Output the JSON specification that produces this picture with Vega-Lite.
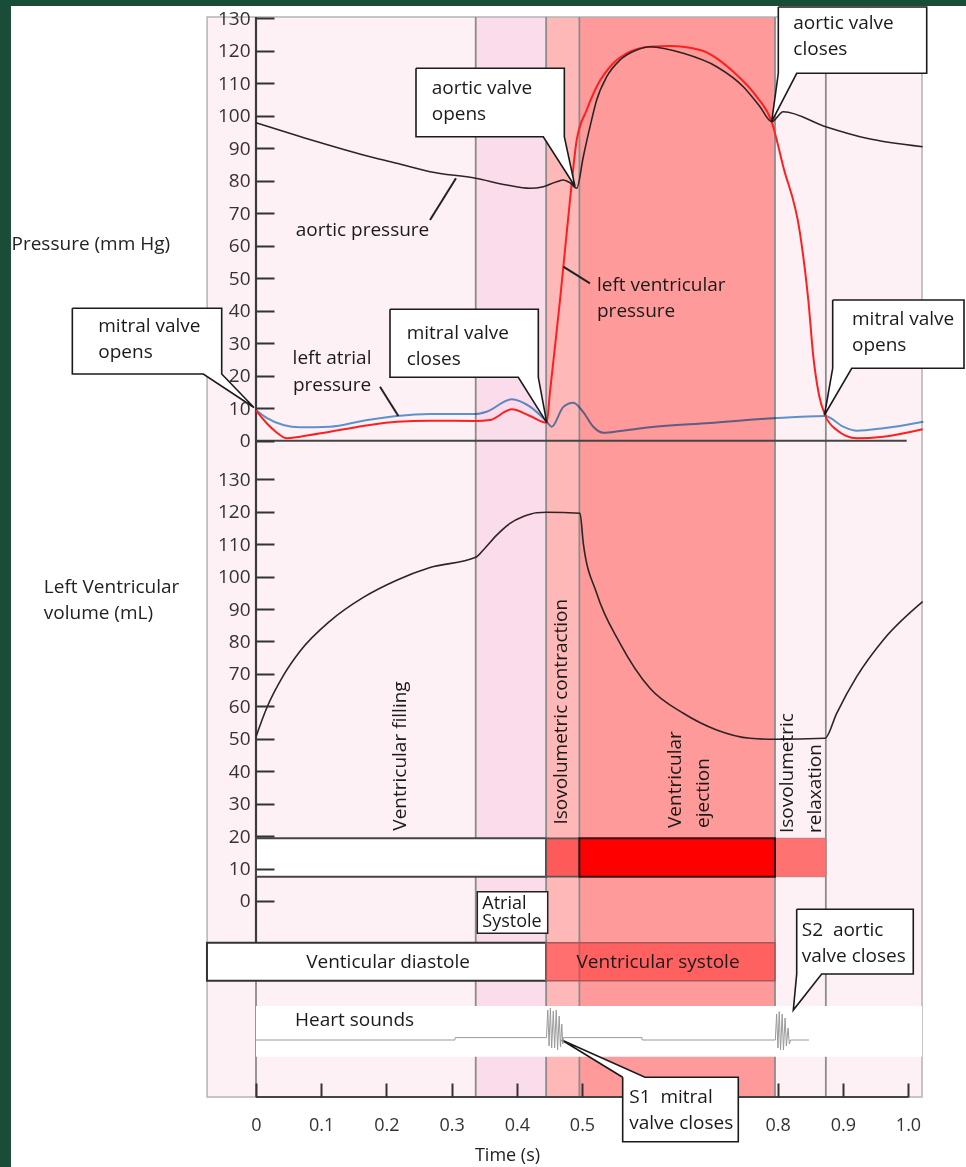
{
  "$schema": "https://vega.github.io/schema/vega-lite/v6.json",
  "width": 652,
  "height": 1080,
  "autosize": "none",
  "padding": {"left": 256, "top": 17, "right": 58, "bottom": 70},
  "background": "#ffffff",
  "config": {"view": {"stroke": null}, "font": "Open Sans", "text": {"font": "Open Sans", "fontSize": 19, "color": "#222222"}},
  "encoding": {
    "x": {
      "field": "t", "type": "quantitative",
      "scale": {"domain": [0, 1], "nice": false, "zero": false},
      "axis": {
        "values": [0, 0.1, 0.2, 0.3, 0.4, 0.5, 0.8, 0.9, 1],
        "labelExpr": "datum.value == 0 ? '0' : format(datum.value, '.1f')",
        "domain": false, "grid": false, "tickSize": -14, "tickWidth": 2, "tickColor": "#333333",
        "labelPadding": 33, "labelFontSize": 18, "labelColor": "#333333", "labelFlush": false, "labelOverlap": false,
        "title": "Time (s)", "titleFontSize": 18, "titleFontWeight": "normal", "titleColor": "#222222",
        "titleX": 251, "titleY": 58, "titleAlign": "center", "titleBaseline": "middle", "zindex": 1
      }
    }
  },
  "resolve": {"scale": {"y": "independent"}},
  "layer": [
    {
      "layer": [
        {
          "data": {"values": [{"t": -0.5, "t2": -0.3758, "p": 200, "p2": -300}, {"t": -0.5, "t2": 1.2, "p": 200, "p2": 133.75}]},
          "mark": {"type": "rect", "fill": "#1a4d37"},
          "encoding": {"x2": {"field": "t2"}, "y": {"field": "p", "type": "quantitative"}, "y2": {"field": "p2"}}
        },
        {
          "data": {"values": [{"t": -0.075, "t2": 0.337}, {"t": 0.796, "t2": 1.0215}]},
          "mark": {"type": "rect", "fill": "#fdf1f6"},
          "encoding": {"x2": {"field": "t2"}}
        },
        {
          "data": {"values": [{"t": 0.337, "t2": 0.445}]},
          "mark": {"type": "rect", "fill": "#fbdcea"},
          "encoding": {"x2": {"field": "t2"}}
        },
        {
          "data": {"values": [{"t": 0.445, "t2": 0.496}]},
          "mark": {"type": "rect", "fill": "#ffb8b8"},
          "encoding": {"x2": {"field": "t2"}}
        },
        {
          "data": {"values": [{"t": 0.496, "t2": 0.796}]},
          "mark": {"type": "rect", "fill": "#ff9a9a"},
          "encoding": {"x2": {"field": "t2"}}
        },
        {
          "data": {"values": [{"t": -0.075, "t2": 1.0215}]},
          "mark": {"type": "rect", "filled": false, "stroke": "#b4b4b4", "strokeWidth": 1.5},
          "encoding": {"x2": {"field": "t2"}}
        },
        {
          "data": {"values": [{"t": 0}, {"t": 0.337}, {"t": 0.445}, {"t": 0.496}, {"t": 0.796}, {"t": 0.874}]},
          "mark": {"type": "rule", "color": "#8c8c8c", "strokeWidth": 1.8},
          "encoding": {}
        },
        {
          "data": {"values": [{"t": 0, "t2": 1.0215, "p": -173.94, "p2": -189.54}]},
          "mark": {"type": "rect", "fill": "#ffffff"},
          "encoding": {"x2": {"field": "t2"}, "y": {"field": "p", "type": "quantitative"}, "y2": {"field": "p2"}}
        },
        {
          "data": {"values": [{"t": -0.0752, "t2": 0.4448, "p": -154.46, "p2": -166.15}]},
          "mark": {"type": "rect", "fill": "#ffffff", "stroke": "#333333", "strokeWidth": 2},
          "encoding": {"x2": {"field": "t2"}, "y": {"field": "p", "type": "quantitative"}, "y2": {"field": "p2"}}
        },
        {
          "data": {"values": [{"t": 0.4448, "t2": 0.796, "p": -154.46, "p2": -166.15}]},
          "mark": {"type": "rect", "fill": "#ff3333", "fillOpacity": 0.55, "stroke": "#a85858", "strokeWidth": 1.5},
          "encoding": {"x2": {"field": "t2"}, "y": {"field": "p", "type": "quantitative"}, "y2": {"field": "p2"}}
        },
        {
          "data": {"values": [{"t": 0.3394, "t2": 0.4474, "p": -138.77, "p2": -151.57}]},
          "mark": {"type": "rect", "fill": "#ffffff", "stroke": "#222222", "strokeWidth": 1.5},
          "encoding": {"x2": {"field": "t2"}, "y": {"field": "p", "type": "quantitative"}, "y2": {"field": "p2"}}
        },
        {
          "data": {"values": [{"t": 0, "p": 130.37, "p2": -154.25}]},
          "mark": {"type": "rule", "color": "#3c3c3c", "strokeWidth": 2.2},
          "encoding": {"y": {"field": "p", "type": "quantitative"}, "y2": {"field": "p2"}}
        },
        {
          "data": {"values": [{"t": 0, "t2": 0.998, "p": 0}, {"t": 0, "t2": 1, "p": -201.94}]},
          "mark": {"type": "rule", "color": "#444444", "strokeWidth": 2},
          "encoding": {"x2": {"field": "t2"}, "y": {"field": "p", "type": "quantitative"}}
        },
        {
          "data": {"values": [
            {"t": 0, "p": 9.45}, {"t": 0.0164, "p": 7.0}, {"t": 0.0419, "p": 4.83}, {"t": 0.0675, "p": 4.12}, {"t": 0.1135, "p": 4.31},
            {"t": 0.1646, "p": 6.15}, {"t": 0.2158, "p": 7.6}, {"t": 0.2669, "p": 8.22}, {"t": 0.337, "p": 8.22}, {"t": 0.3538, "p": 8.92},
            {"t": 0.3922, "p": 12.74}, {"t": 0.4202, "p": 10.46}, {"t": 0.4459, "p": 5.85}, {"t": 0.4535, "p": 4.3}, {"t": 0.4713, "p": 10.4},
            {"t": 0.4866, "p": 11.69}, {"t": 0.502, "p": 8.8}, {"t": 0.5173, "p": 4.31}, {"t": 0.5327, "p": 2.46}, {"t": 0.5583, "p": 2.98},
            {"t": 0.6043, "p": 4.12}, {"t": 0.6963, "p": 5.45}, {"t": 0.7934, "p": 6.9}, {"t": 0.8727, "p": 7.6}, {"t": 0.9008, "p": 4.31},
            {"t": 0.9213, "p": 3.08}, {"t": 0.9621, "p": 3.82}, {"t": 1.0235, "p": 5.85}
          ]},
          "mark": {"type": "line", "color": "#5f9ad4", "strokeWidth": 2, "interpolate": "monotone", "blend": "multiply"},
          "encoding": {"y": {"field": "p", "type": "quantitative"}}
        },
        {
          "data": {"values": [
            {"t": 0, "p": 9.3}, {"t": 0.0164, "p": 5.35}, {"t": 0.0307, "p": 2.68}, {"t": 0.0471, "p": 0.74}, {"t": 0.0675, "p": 1.23},
            {"t": 0.1135, "p": 2.77}, {"t": 0.1646, "p": 4.52}, {"t": 0.2158, "p": 5.85}, {"t": 0.2669, "p": 6.15}, {"t": 0.337, "p": 6.06},
            {"t": 0.3589, "p": 6.37}, {"t": 0.3922, "p": 9.66}, {"t": 0.4202, "p": 7.6}, {"t": 0.4459, "p": 5.54}, {"t": 0.4509, "p": 15.0},
            {"t": 0.4586, "p": 29.0}, {"t": 0.4663, "p": 43.3}, {"t": 0.4739, "p": 58.6}, {"t": 0.4816, "p": 74.06}, {"t": 0.4919, "p": 92.52},
            {"t": 0.5072, "p": 101.75}, {"t": 0.5225, "p": 108.92}, {"t": 0.548, "p": 116.12}, {"t": 0.5736, "p": 119.69}, {"t": 0.6043, "p": 121.23},
            {"t": 0.635, "p": 121.45}, {"t": 0.681, "p": 120.22}, {"t": 0.7321, "p": 113.54}, {"t": 0.7679, "p": 105.85}, {"t": 0.7909, "p": 98.15},
            {"t": 0.8087, "p": 84.3}, {"t": 0.8344, "p": 63.8}, {"t": 0.8471, "p": 43.29}, {"t": 0.8548, "p": 25.85}, {"t": 0.8635, "p": 14.06},
            {"t": 0.8727, "p": 7.91}, {"t": 0.8906, "p": 3.29}, {"t": 0.9213, "p": 0.74}, {"t": 0.9621, "p": 1.23}, {"t": 1.0225, "p": 3.51}
          ]},
          "mark": {"type": "line", "color": "#ff1f1f", "strokeWidth": 2, "interpolate": "monotone"},
          "encoding": {"y": {"field": "p", "type": "quantitative"}}
        },
        {
          "data": {"values": [
            {"t": 0, "p": 97.85}, {"t": 0.0675, "p": 93.6}, {"t": 0.1135, "p": 90.8}, {"t": 0.1646, "p": 87.9}, {"t": 0.2158, "p": 85.35},
            {"t": 0.2669, "p": 82.77}, {"t": 0.337, "p": 80.74}, {"t": 0.3845, "p": 78.68}, {"t": 0.4202, "p": 77.66}, {"t": 0.4406, "p": 78.15},
            {"t": 0.4612, "p": 79.69}, {"t": 0.4713, "p": 80.2}, {"t": 0.4816, "p": 79.38}, {"t": 0.4919, "p": 77.66}, {"t": 0.502, "p": 87.38},
            {"t": 0.5123, "p": 96.62}, {"t": 0.5225, "p": 104.83}, {"t": 0.5379, "p": 112.0}, {"t": 0.5583, "p": 117.14}, {"t": 0.5839, "p": 120.22},
            {"t": 0.6043, "p": 121.23}, {"t": 0.6554, "p": 119.2}, {"t": 0.7066, "p": 115.08}, {"t": 0.7474, "p": 108.92}, {"t": 0.773, "p": 102.77},
            {"t": 0.7909, "p": 98.15}, {"t": 0.8087, "p": 101.23}, {"t": 0.8738, "p": 96.62}, {"t": 0.9366, "p": 93.05}, {"t": 1.0225, "p": 90.46}
          ]},
          "mark": {"type": "line", "color": "#2e2424", "strokeWidth": 1.6, "interpolate": "monotone"},
          "encoding": {
            "y": {
              "field": "p", "type": "quantitative",
              "scale": {"domain": [-201.94, 130.37], "nice": false, "zero": false},
              "axis": {
                "orient": "left", "values": [0, 10, 20, 30, 40, 50, 60, 70, 80, 90, 100, 110, 120, 130],
                "domain": false, "grid": false, "tickSize": -18, "tickWidth": 2, "tickColor": "#333333",
                "labelPadding": 24, "labelFontSize": 19, "labelColor": "#333333", "labelFlush": false, "labelOverlap": false,
                "title": "Pressure (mm Hg)", "titleAngle": 0, "titleAlign": "left", "titleBaseline": "middle",
                "titleX": -245, "titleY": 226, "titleFontSize": 19, "titleFontWeight": "normal", "titleColor": "#222222", "zindex": 1
              }
            }
          }
        },
        {
          "data": {"values": [
            {"t": 0.2669, "t2": 0.3067, "p": 67.91, "p2": 80.74},
            {"t": 0.1902, "t2": 0.2183, "p": 16.62, "p2": 7.6},
            {"t": 0.4713, "t2": 0.5123, "p": 53.54, "p2": 48.43}
          ]},
          "mark": {"type": "rule", "color": "#222222", "strokeWidth": 2},
          "encoding": {"x2": {"field": "t2"}, "y": {"field": "p", "type": "quantitative"}, "y2": {"field": "p2"}}
        },
        {
          "data": {"values": [
            {"t": 0.1633, "p": 64.83, "label": "aortic pressure"},
            {"t": 0.1166, "p": 25.35, "label": "left atrial\npressure"},
            {"t": 0.2025, "p": -160.4, "label": "Venticular diastole"},
            {"t": 0.6166, "p": -160.4, "label": "Ventricular systole"}
          ]},
          "mark": {"type": "text", "align": "center", "baseline": "middle", "lineBreak": "\n", "lineHeight": 26.7, "fontSize": 19, "color": "#1a1a1a"},
          "encoding": {"y": {"field": "p", "type": "quantitative"}, "text": {"field": "label"}}
        },
        {
          "data": {"values": [
            {"t": 0.523, "p": 47.91, "label": "left ventricular\npressure"},
            {"t": 0.0598, "p": -178.25, "label": "Heart sounds"}
          ]},
          "mark": {"type": "text", "align": "left", "baseline": "middle", "lineBreak": "\n", "lineHeight": 26, "fontSize": 19, "color": "#1a1a1a"},
          "encoding": {"y": {"field": "p", "type": "quantitative"}, "text": {"field": "label"}}
        },
        {
          "data": {"values": [
            {"id": "a", "k": 0, "t": 0.2454, "p": 114.58}, {"id": "a", "k": 1, "t": 0.4729, "p": 114.58}, {"id": "a", "k": 2, "t": 0.4729, "p": 93.54},
            {"id": "a", "k": 3, "t": 0.4893, "p": 78.2}, {"id": "a", "k": 4, "t": 0.4406, "p": 93.54}, {"id": "a", "k": 5, "t": 0.2454, "p": 93.54},
            {"id": "a", "k": 6, "t": 0.2454, "p": 114.58},
            {"id": "b", "k": 0, "t": 0.8011, "p": 133.45}, {"id": "b", "k": 1, "t": 1.0287, "p": 133.45}, {"id": "b", "k": 2, "t": 1.0287, "p": 113.05},
            {"id": "b", "k": 3, "t": 0.8293, "p": 113.05}, {"id": "b", "k": 4, "t": 0.7909, "p": 98.15}, {"id": "b", "k": 5, "t": 0.8011, "p": 113.05},
            {"id": "b", "k": 6, "t": 0.8011, "p": 133.45},
            {"id": "c", "k": 0, "t": -0.2817, "p": 40.74}, {"id": "c", "k": 1, "t": -0.0526, "p": 40.74}, {"id": "c", "k": 2, "t": -0.0526, "p": 20.52},
            {"id": "c", "k": 3, "t": -0.0031, "p": 10.22}, {"id": "c", "k": 4, "t": -0.0808, "p": 20.52}, {"id": "c", "k": 5, "t": -0.2817, "p": 20.52},
            {"id": "c", "k": 6, "t": -0.2817, "p": 40.74},
            {"id": "d", "k": 0, "t": 0.2055, "p": 40.43}, {"id": "d", "k": 1, "t": 0.433, "p": 40.43}, {"id": "d", "k": 2, "t": 0.433, "p": 19.51},
            {"id": "d", "k": 3, "t": 0.4459, "p": 5.54}, {"id": "d", "k": 4, "t": 0.4023, "p": 19.51}, {"id": "d", "k": 5, "t": 0.2055, "p": 19.51},
            {"id": "d", "k": 6, "t": 0.2055, "p": 40.43},
            {"id": "e", "k": 0, "t": 0.8845, "p": 43.29}, {"id": "e", "k": 1, "t": 1.0859, "p": 43.29}, {"id": "e", "k": 2, "t": 1.0859, "p": 22.28},
            {"id": "e", "k": 3, "t": 0.9137, "p": 22.28}, {"id": "e", "k": 4, "t": 0.8719, "p": 7.91}, {"id": "e", "k": 5, "t": 0.8845, "p": 22.28},
            {"id": "e", "k": 6, "t": 0.8845, "p": 43.29},
            {"id": "f", "k": 0, "t": 0.5624, "p": -195.88}, {"id": "f", "k": 1, "t": 0.4689, "p": -184.4}, {"id": "f", "k": 2, "t": 0.5966, "p": -195.88},
            {"id": "f", "k": 3, "t": 0.7397, "p": -195.88}, {"id": "f", "k": 4, "t": 0.7397, "p": -215.69}, {"id": "f", "k": 5, "t": 0.5624, "p": -215.69},
            {"id": "f", "k": 6, "t": 0.5624, "p": -195.88},
            {"id": "g", "k": 0, "t": 0.8293, "p": -144.18}, {"id": "g", "k": 1, "t": 1.0081, "p": -144.18}, {"id": "g", "k": 2, "t": 1.0081, "p": -164.09},
            {"id": "g", "k": 3, "t": 0.8676, "p": -164.09}, {"id": "g", "k": 4, "t": 0.8241, "p": -175.17}, {"id": "g", "k": 5, "t": 0.8293, "p": -164.09},
            {"id": "g", "k": 6, "t": 0.8293, "p": -144.18}
          ]},
          "mark": {"type": "line", "fill": "#ffffff", "stroke": "#1a1a1a", "strokeWidth": 1.6, "strokeJoin": "miter"},
          "encoding": {
            "y": {"field": "p", "type": "quantitative"},
            "detail": {"field": "id"},
            "order": {"field": "k", "type": "quantitative"}
          }
        },
        {
          "data": {"values": [
            {"t": 0.2695, "p": 108.52, "label": "aortic valve\nopens"},
            {"t": 0.8241, "p": 128.62, "label": "aortic valve\ncloses"},
            {"t": -0.2419, "p": 35.29, "label": "mitral valve\nopens"},
            {"t": 0.2311, "p": 33.05, "label": "mitral valve\ncloses"},
            {"t": 0.9141, "p": 37.35, "label": "mitral valve\nopens"},
            {"t": 0.5725, "p": -201.85, "label": "S1\u00a0\u00a0mitral\nvalve closes"},
            {"t": 0.837, "p": -150.55, "label": "S2\u00a0 aortic\nvalve closes"}
          ]},
          "mark": {"type": "text", "align": "left", "baseline": "middle", "lineBreak": "\n", "lineHeight": 26, "fontSize": 19, "color": "#1a1a1a"},
          "encoding": {"y": {"field": "p", "type": "quantitative"}, "text": {"field": "label"}}
        },
        {
          "data": {"values": [{"t": 0.3471, "p": -142.52, "label": "Atrial\nSystole"}]},
          "mark": {"type": "text", "align": "left", "baseline": "middle", "lineBreak": "\n", "lineHeight": 18, "fontSize": 18, "color": "#1a1a1a"},
          "encoding": {"y": {"field": "p", "type": "quantitative"}, "text": {"field": "label"}}
        }
      ]
    },
    {
      "layer": [
        {
          "data": {"values": [
            {"t": 0, "v": 50.65}, {"t": 0.0164, "v": 59.5}, {"t": 0.0419, "v": 69.5}, {"t": 0.0675, "v": 77.0}, {"t": 0.1135, "v": 86.3},
            {"t": 0.1646, "v": 93.6}, {"t": 0.2158, "v": 98.9}, {"t": 0.2669, "v": 102.8}, {"t": 0.337, "v": 105.95}, {"t": 0.3486, "v": 108.2},
            {"t": 0.3692, "v": 112.8}, {"t": 0.3896, "v": 116.4}, {"t": 0.41, "v": 118.5}, {"t": 0.4305, "v": 119.7}, {"t": 0.4459, "v": 119.82},
            {"t": 0.4969, "v": 119.51}, {"t": 0.502, "v": 110.27}, {"t": 0.5225, "v": 94.85}, {"t": 0.5583, "v": 79.44}, {"t": 0.6043, "v": 65.57},
            {"t": 0.6554, "v": 57.86}, {"t": 0.7066, "v": 52.71}, {"t": 0.7577, "v": 50.15}, {"t": 0.796, "v": 49.85}, {"t": 0.8727, "v": 50.15},
            {"t": 0.8906, "v": 57.86}, {"t": 0.9213, "v": 69.14}, {"t": 0.9621, "v": 80.46}, {"t": 1.0225, "v": 92.26}
          ]},
          "mark": {"type": "line", "color": "#2e2424", "strokeWidth": 1.6, "interpolate": "monotone"},
          "encoding": {
            "y": {
              "field": "v", "type": "quantitative",
              "scale": {"domain": [-60.42, 272.5], "nice": false, "zero": false},
              "axis": {
                "orient": "left", "values": [0, 10, 20, 30, 40, 50, 60, 70, 80, 90, 100, 110, 120, 130],
                "domain": false, "grid": false, "tickSize": -18, "tickWidth": 2, "tickColor": "#333333",
                "labelPadding": 24, "labelFontSize": 19, "labelColor": "#333333", "labelFlush": false, "labelOverlap": false,
                "title": ["Left Ventricular", "volume (mL)"], "titleAngle": 0, "titleAlign": "left", "titleBaseline": "middle",
                "titleX": -212.7, "titleY": 569, "titleLineHeight": 26, "titleFontSize": 19, "titleFontWeight": "normal", "titleColor": "#222222", "zindex": 1
              }
            }
          }
        },
        {
          "data": {"values": [{"t": 0, "t2": 0.4448, "v": 7.49, "v2": 19.33}]},
          "mark": {"type": "rect", "fill": "#ffffff", "stroke": "#444444", "strokeWidth": 2},
          "encoding": {"x2": {"field": "t2"}, "y": {"field": "v", "type": "quantitative"}, "y2": {"field": "v2"}}
        },
        {
          "data": {"values": [{"t": 0.4448, "t2": 0.496, "v": 7.49, "v2": 19.33}]},
          "mark": {"type": "rect", "fill": "#ff5a5a", "stroke": "#555555", "strokeWidth": 1.8},
          "encoding": {"x2": {"field": "t2"}, "y": {"field": "v", "type": "quantitative"}, "y2": {"field": "v2"}}
        },
        {
          "data": {"values": [{"t": 0.796, "t2": 0.874, "v": 7.49, "v2": 19.33}]},
          "mark": {"type": "rect", "fill": "#ff7272", "stroke": "#c47a7a", "strokeWidth": 1},
          "encoding": {"x2": {"field": "t2"}, "y": {"field": "v", "type": "quantitative"}, "y2": {"field": "v2"}}
        },
        {
          "data": {"values": [{"t": 0.496, "t2": 0.796, "v": 7.49, "v2": 19.33}]},
          "mark": {"type": "rect", "fill": "#ff0000", "stroke": "#3a1010", "strokeWidth": 2},
          "encoding": {"x2": {"field": "t2"}, "y": {"field": "v", "type": "quantitative"}, "y2": {"field": "v2"}}
        },
        {
          "data": {"values": [
            {"t": 0.2209, "v": 44.7, "label": "Ventricular filling"},
            {"t": 0.4678, "v": 58.35, "label": "Isovolumetric contraction"}
          ]},
          "mark": {"type": "text", "angle": 270, "align": "center", "baseline": "middle", "fontSize": 19, "color": "#1a1a1a"},
          "encoding": {"y": {"field": "v", "type": "quantitative"}, "text": {"field": "label"}}
        },
        {
          "data": {"values": [
            {"t": 0.6434, "v": 22.5, "label": "Ventricular\nejection"},
            {"t": 0.8144, "v": 20.96, "label": "Isovolumetric\nrelaxation"}
          ]},
          "mark": {"type": "text", "angle": 270, "align": "left", "baseline": "middle", "lineBreak": "\n", "lineHeight": 28, "fontSize": 19, "color": "#1a1a1a"},
          "encoding": {"y": {"field": "v", "type": "quantitative"}, "text": {"field": "label"}}
        }
      ]
    },
    {
      "data": {"values": [
        {"t": 0, "amp": 0}, {"t": 0.305, "amp": 0}, {"t": 0.3055, "amp": 0.12}, {"t": 0.4455, "amp": 0.12},
        {"t": 0.4475, "amp": 1.5}, {"t": 0.4495, "amp": -0.3}, {"t": 0.4515, "amp": 1.6}, {"t": 0.4535, "amp": -0.4},
        {"t": 0.456, "amp": 1.45}, {"t": 0.458, "amp": -0.4}, {"t": 0.4605, "amp": 1.5}, {"t": 0.4625, "amp": -0.5},
        {"t": 0.465, "amp": 1.2}, {"t": 0.467, "amp": -0.35}, {"t": 0.469, "amp": 0.8}, {"t": 0.4705, "amp": -0.2},
        {"t": 0.4715, "amp": 0.12}, {"t": 0.592, "amp": 0.12}, {"t": 0.5925, "amp": 0}, {"t": 0.7965, "amp": 0},
        {"t": 0.7985, "amp": 1.3}, {"t": 0.8005, "amp": -0.4}, {"t": 0.8025, "amp": 1.42}, {"t": 0.8045, "amp": -0.5},
        {"t": 0.807, "amp": 1.3}, {"t": 0.809, "amp": -0.5}, {"t": 0.8115, "amp": 1.1}, {"t": 0.8135, "amp": -0.3},
        {"t": 0.816, "amp": 0.6}, {"t": 0.818, "amp": -0.2}, {"t": 0.82, "amp": 0}, {"t": 0.848, "amp": 0}
      ]},
      "mark": {"type": "line", "color": "#9a9a9a", "strokeWidth": 1},
      "encoding": {"y": {"field": "amp", "type": "quantitative", "scale": {"domain": [-2.85, 51.15], "nice": false, "zero": false}, "axis": null}}
    }
  ]
}
